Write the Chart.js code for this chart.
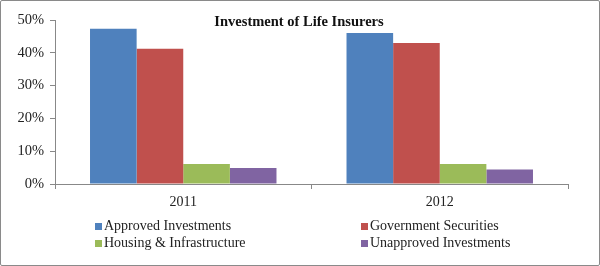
<!DOCTYPE html>
<html>
<head>
<meta charset="utf-8">
<script src="https://cdn.jsdelivr.net/npm/chart.js@4/dist/chart.umd.min.js"></script>
<style>
  html, body { margin: 0; padding: 0; background: #fff; }
  #wrap { position: relative; width: 600px; height: 266px; overflow: hidden; }
  #wrap canvas { position: absolute; left: 0; top: 0; }
  #frame { position: absolute; left: 0; top: 0; width: 598px; height: 264px; border: 1px solid #8a8a8a; border-radius: 2px; pointer-events: none; }
  #legend { position: absolute; left: 0; top: 218px; width: 600px; font-family: "Liberation Serif", "DejaVu Serif", serif; font-size: 14px; color: #222; }
  .li { position: absolute; white-space: nowrap; line-height: 15px; }
  .sw { display: inline-block; width: 7px; height: 7px; margin-right: 2px; vertical-align: 0px; }
</style>
</head>
<body>
<div id="wrap">
  <canvas id="c" width="600" height="266"></canvas>
  <div id="legend"></div>
  <div id="frame"></div>
</div>
<script>
const chartTitle = "Investment of Life Insurers";
const categories = ["2011", "2012"];
const seriesNames = ["Approved Investments", "Government Securities", "Housing & Infrastructure", "Unapproved Investments"];
const approved = [47.3, 46.0];
const government = [41.2, 43.0];
const housing = [6.1, 6.1];
const unapproved = [4.9, 4.4];
const yTicks = [0, 10, 20, 30, 40, 50];
const colors = ["#4F81BD", "#C0504D", "#9BBB59", "#8064A2"];

const seriesValues = [approved, government, housing, unapproved];
const datasets = seriesNames.map((n, i) => ({
  label: n,
  data: seriesValues[i],
  backgroundColor: colors[i],
  borderWidth: 0,
  barPercentage: 1.0,
  categoryPercentage: 0.727
}));

const titlePlugin = {
  id: 'insideTitle',
  afterDraw(chart) {
    const ctx = chart.ctx;
    ctx.save();
    ctx.font = 'bold 14.5px "Liberation Serif", "DejaVu Serif", serif';
    ctx.fillStyle = '#111';
    ctx.textAlign = 'center';
    ctx.textBaseline = 'middle';
    ctx.fillText(chartTitle, 299, 22);
    ctx.restore();
  }
};

const tickFont = { family: '"Liberation Serif", "DejaVu Serif", serif', size: 14 };

new Chart(document.getElementById('c'), {
  type: 'bar',
  data: { labels: categories, datasets },
  options: {
    responsive: false,
    animation: false,
    layout: { padding: { left: 0, right: 32, top: 20, bottom: 52 } },
    plugins: { legend: { display: false }, tooltip: { enabled: false } },
    scales: {
      x: {
        offset: true,
        grid: { offset: true, drawOnChartArea: false, drawTicks: true, tickLength: 5, color: '#888' },
        border: { color: '#888' },
        ticks: { font: tickFont, color: '#222', padding: 5 },
        afterFit(s) { s.height = 30; }
      },
      y: {
        min: 0, max: 50,
        afterBuildTicks(s) { s.ticks = yTicks.map(v => ({ value: v })); },
        grid: { drawOnChartArea: false, drawTicks: true, tickLength: 5, color: '#888' },
        border: { color: '#888' },
        ticks: { font: { family: tickFont.family, size: 14.5 }, color: '#222', padding: 6, callback: v => v + '%' },
        afterFit(s) { s.width = 55; }
      }
    }
  },
  plugins: [titlePlugin]
});

const legend = document.getElementById('legend');
const pos = [[95, 0], [361, 0], [95, 17], [361, 17]];
seriesNames.forEach((n, i) => {
  const d = document.createElement('div');
  d.className = 'li';
  d.style.left = pos[i][0] + 'px';
  d.style.top = pos[i][1] + 'px';
  const sw = document.createElement('span');
  sw.className = 'sw';
  sw.style.background = colors[i];
  d.appendChild(sw);
  d.appendChild(document.createTextNode(n));
  legend.appendChild(d);
});
</script>
</body>
</html>
